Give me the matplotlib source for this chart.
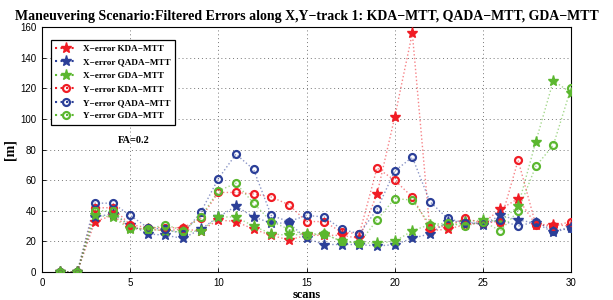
import matplotlib.pyplot as plt
import numpy as np

scans = list(range(1, 31))

x_kda = [0, 0, 33, 37, 29, 28, 27, 28, 27, 34, 33, 28, 24, 21, 24, 24, 24, 22, 51, 101,
         156, 27, 28, 31, 32, 41, 48, 31, 31, 30]
x_qada = [0, 0, 36, 38, 31, 25, 24, 22, 28, 36, 43, 36, 32, 32, 22, 18, 18, 18, 17, 18,
          22, 25, 33, 33, 31, 37, 34, 32, 26, 29]
x_gda = [0, 0, 37, 36, 28, 28, 27, 26, 27, 36, 36, 30, 25, 24, 25, 25, 20, 19, 19, 20,
         27, 31, 30, 33, 34, 33, 43, 85, 125, 117]
y_kda = [0, 0, 42, 42, 31, 29, 29, 29, 35, 52, 52, 51, 49, 44, 33, 33, 26, 25, 68, 60,
         49, 29, 30, 35, 32, 33, 73, 31, 30, 33]
y_qada = [0, 0, 45, 45, 37, 29, 28, 25, 39, 61, 77, 67, 37, 33, 37, 36, 28, 25, 41, 66,
          75, 46, 35, 32, 32, 34, 30, 33, 27, 29]
y_gda = [0, 0, 40, 40, 29, 28, 31, 27, 36, 53, 58, 45, 33, 28, 24, 25, 20, 19, 34, 48,
         47, 31, 32, 30, 33, 27, 40, 69, 83, 120]

red = '#f01c24'
blue = '#2b3f98'
green = '#5bb72f'

serif = ['Liberation Serif', 'DejaVu Serif']
plt.rcParams['font.family'] = ['Liberation Sans', 'DejaVu Sans']

fig = plt.figure(figsize=(6.13, 3.0), dpi=100)
ax = fig.add_axes([0.0685, 0.093, 0.863, 0.817])

series = [
    (x_kda, red, '*', 'X\u2212error KDA\u2212MTT'),
    (x_qada, blue, '*', 'X\u2212error QADA\u2212MTT'),
    (x_gda, green, '*', 'X\u2212error GDA\u2212MTT'),
    (y_kda, red, 'o', 'Y\u2212error KDA\u2212MTT'),
    (y_qada, blue, 'o', 'Y\u2212error QADA\u2212MTT'),
    (y_gda, green, 'o', 'Y\u2212error GDA\u2212MTT'),
]
for vals, c, m, lab in series:
    ax.plot(scans, vals, linestyle=':', color=c, alpha=0.55, lw=1.0, zorder=2)
    if m == '*':
        ax.plot(scans, vals, linestyle='none', marker='*', ms=8, color=c,
                mec=c, zorder=3)
        ax.plot([], [], linestyle=':', color=c, marker='*', ms=8, label=lab)
    else:
        ax.plot(scans, vals, linestyle='none', marker='o', ms=5, mfc='none',
                mec=c, mew=1.6, zorder=3)
        ax.plot([], [], linestyle=':', color=c, marker='o', ms=5, mfc='none',
                mec=c, mew=1.6, label=lab)

ax.set_xlim(0, 30)
ax.set_ylim(0, 160)
ax.set_xticks(np.arange(0, 31, 5))
ax.set_yticks(np.arange(0, 161, 20))
ax.tick_params(labelsize=7, direction='in', length=3, width=0.6, pad=4)
ax.grid(True, linestyle=(0, (1, 3)), color='#777777', lw=0.7)
for s in ax.spines.values():
    s.set_linewidth(0.8)

ax.set_title('Maneuvering Scenario:Filtered Errors along X,Y\u2212track 1: KDA\u2212MTT, QADA\u2212MTT, GDA\u2212MTT',
             family=serif, fontweight='bold', fontsize=10, pad=5)
ax.set_xlabel('scans', family=serif, fontweight='bold', fontsize=9, labelpad=1)
ax.set_ylabel('[m]', family=serif, fontweight='bold', fontsize=10, labelpad=3)
ax.text(4.3, 84, 'FA=0.2', family=serif, fontweight='bold', fontsize=7.5)

leg = ax.legend(loc='upper left', bbox_to_anchor=(0.008, 0.965),
                prop={'family': serif, 'weight': 'bold', 'size': 6.6},
                fancybox=False, framealpha=1, edgecolor='black', handlelength=2.4,
                borderpad=0.5, labelspacing=0.55, handletextpad=0.6)
leg.get_frame().set_linewidth(0.9)

fig.savefig('out.png', dpi=100)
